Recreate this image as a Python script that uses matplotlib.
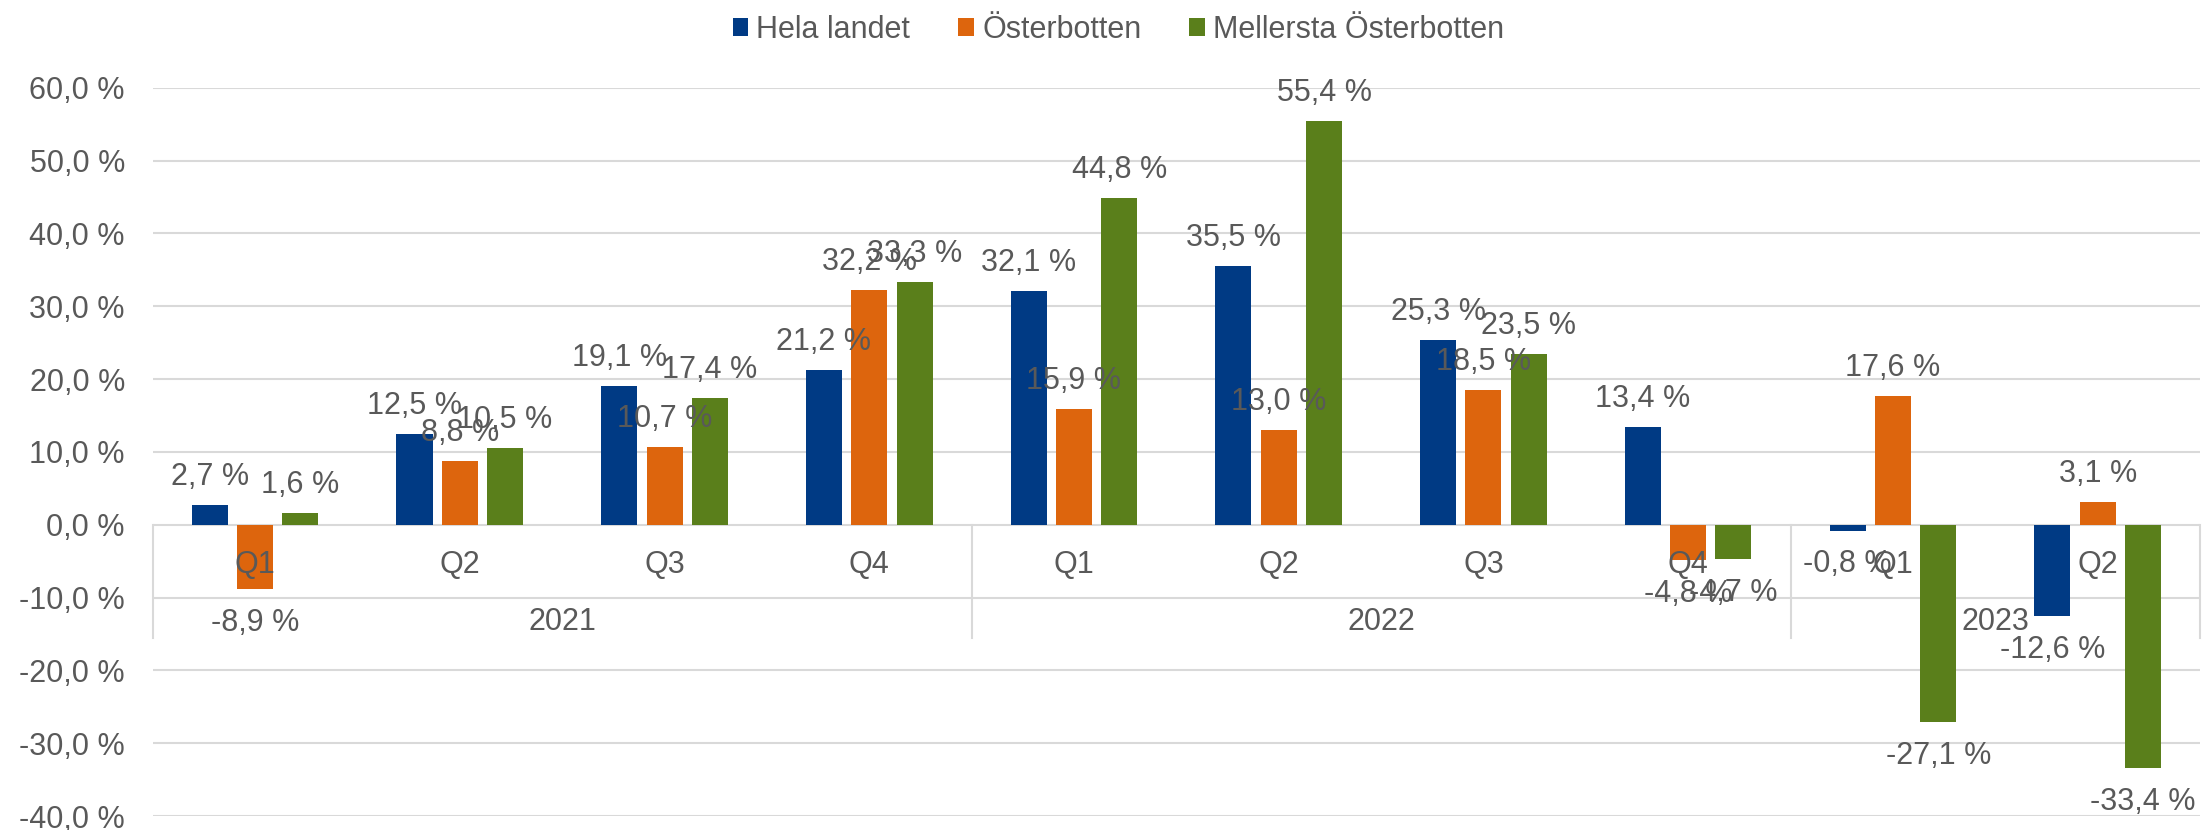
import numpy as np
import matplotlib
matplotlib.use("Agg")
import matplotlib.pyplot as plt
from matplotlib.patches import Patch

plt.rcParams['font.family'] = ['Liberation Sans', 'DejaVu Sans']

# data
quarters = ['Q1', 'Q2', 'Q3', 'Q4', 'Q1', 'Q2', 'Q3', 'Q4', 'Q1', 'Q2']
years = ['2021', '2022', '2023']
year_spans = [(0, 4), (4, 8), (8, 10)]
series = ['Hela landet', 'Österbotten', 'Mellersta Österbotten']
hela = [2.7, 12.5, 19.1, 21.2, 32.1, 35.5, 25.3, 13.4, -0.8, -12.6]
oster = [-8.9, 8.8, 10.7, 32.2, 15.9, 13.0, 18.5, -4.8, 17.6, 3.1]
mellersta = [1.6, 10.5, 17.4, 33.3, 44.8, 55.4, 23.5, -4.7, -27.1, -33.4]
colors = ['#003A84', '#DD650D', '#5A7F1B']

txt = '#595959'
grid_c = '#D9D9D9'
fs = 22

W, H = 2206, 830
fig = plt.figure(figsize=(W / 100, H / 100), dpi=100)
ax = fig.add_axes([152.7 / W, 1 - 816 / H, (2200 - 152.7) / W, (816 - 87.7) / H])

x = np.arange(len(quarters)) + 0.5
step = 0.2213
bw = 0.176

for k, (vals, col) in enumerate(zip([hela, oster, mellersta], colors)):
    xs = x + (k - 1) * step
    ax.bar(xs, vals, width=bw, color=col, zorder=3)
    for xi, v in zip(xs, vals):
        lab = f"{v:.1f}".replace('.', ',') + ' %'
        off = 14.4 if v >= 0 else -30.2
        ax.annotate(lab, (xi, v), xytext=(0, off), textcoords='offset points',
                    ha='center', va='baseline', fontsize=fs, color=txt, zorder=5)

ax.set_xlim(0, len(quarters))
ax.set_ylim(-40, 60)
yt = np.arange(-40, 61, 10)
ax.set_yticks(yt)
ax.set_yticklabels([f"{v:.1f}".replace('.', ',') + ' %' for v in yt])
ax.tick_params(axis='y', length=0, pad=20, labelsize=fs, labelcolor=txt)
ax.set_xticks([])
for s in ax.spines.values():
    s.set_visible(False)
ax.grid(axis='y', color=grid_c, linewidth=1.5, zorder=1)
ax.set_axisbelow(True)

# two-level category axis
for xi, q in zip(x, quarters):
    ax.text(xi, -6.65, q, ha='center', va='baseline', fontsize=fs, color=txt, zorder=4)
box_bottom = -(638 - 524.3) / 7.283
for (a, b), yr in zip(year_spans, years):
    ax.text((a + b) / 2, -14.5, yr, ha='center', va='baseline', fontsize=fs, color=txt, zorder=4)
for b in [0, 4, 8, 10]:
    ax.plot([b, b], [0, box_bottom], color=grid_c, linewidth=1.5, zorder=2, clip_on=False)

handles = [Patch(facecolor=c) for c in colors]
fig.legend(handles, series, loc='center', bbox_to_anchor=(0.507, 0.964), ncol=3,
           frameon=False, fontsize=fs, labelcolor=txt, handlelength=0.52,
           handleheight=0.52, handletextpad=0.26, columnspacing=1.57)

fig.savefig('out.png', dpi=100)
